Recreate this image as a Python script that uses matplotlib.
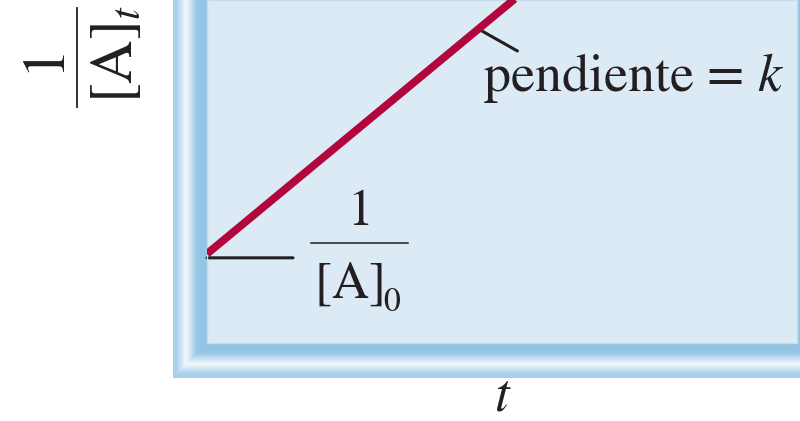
import numpy as np
import matplotlib
matplotlib.use("Agg")
import matplotlib.pyplot as plt
from matplotlib.transforms import offset_copy

plt.rcParams['font.family'] = ['STIXGeneral', 'DejaVu Serif']
plt.rcParams['mathtext.fontset'] = 'stix'

# second-order kinetics: 1/[A] grows linearly with time
t = [0.0, 8.0]
inv_a = [2.6, 14.0]
t_slope_mark = 4.6

W, H = 800, 421
RED = '#b2063c'
INK = '#231f20'
PANEL = '#dbeaf5'

fig = plt.figure(figsize=(W / 100, H / 100), dpi=100)

# bevelled frame around the plot panel, drawn as an RGBA image in pixel space
bg = fig.add_axes([0, 0, 1, 1])
bg.set_xlim(0, W)
bg.set_ylim(H, 0)
bg.axis('off')

in_l, in_r, in_b = 207, 797, 343
out_l, out_b = 173, 378
xx, yy = np.meshgrid(np.arange(W) + 0.5, np.arange(H) + 0.5)
d = np.full(xx.shape, -1.0)
d = np.where(xx < in_l, in_l - xx, d)
d = np.where(xx >= in_r, np.maximum(d, xx - in_r), d)
d = np.where(yy >= in_b, np.maximum(d, yy - in_b), d)
inside = (d > 0) & (xx >= out_l) & (yy < out_b)

stops = [0, 10, 21, 30, 35]
cols = np.array([
    [146, 196, 227],
    [150, 199, 229],
    [244, 249, 253],
    [172, 210, 235],
    [165, 206, 233],
]) / 255.0
img = np.zeros((H, W, 4))
for c in range(3):
    img[..., c] = np.interp(d, stops, cols[:, c])
img[..., 3] = inside.astype(float)
bg.imshow(img, extent=[0, W, H, 0], interpolation='bilinear', zorder=0)

ax = fig.add_axes([in_l / W, 1 - in_b / H, (in_r - in_l) / W, in_b / H])
ax.set_facecolor(PANEL)
ax.set_xlim(0, 10)
ax.set_ylim(0, 10)
ax.set_xticks([])
ax.set_yticks([])
for s in ax.spines.values():
    s.set_color('#c4dcee')
    s.set_linewidth(1)

ax.plot(t, inv_a, color=RED, lw=5.6, solid_capstyle='butt', zorder=3)

# intercept leader, sitting along the lower edge of the red line
ax.annotate('', xy=(t[0], inv_a[0]),
            xycoords=offset_copy(ax.transData, fig=fig, y=-4, units='dots'),
            xytext=(86, 0), textcoords='offset pixels',
            arrowprops=dict(arrowstyle='-', lw=2.2, color=INK, shrinkA=0, shrinkB=0),
            zorder=2)

# slope leader and label
y_mark = np.interp(t_slope_mark, t, inv_a)
ax.annotate('', xy=(t_slope_mark, y_mark), xytext=(39, -22), textcoords='offset pixels',
            arrowprops=dict(arrowstyle='-', lw=2.2, color=INK, shrinkA=0, shrinkB=0),
            zorder=2)
ax.annotate(r'pendiente = $k$', xy=(t_slope_mark, y_mark), xytext=(5, -62),
            textcoords='offset pixels', ha='left', va='baseline', fontsize=39, color=INK)

# transparent overlay in pixel space for the stacked fractions
fg = fig.add_axes([0, 0, 1, 1], facecolor='none')
fg.set_xlim(0, W)
fg.set_ylim(H, 0)
fg.axis('off')

fs0 = 37
fg.text(360, 225, '1', ha='center', va='baseline', fontsize=fs0, color=INK)
fg.plot([311, 408], [243, 243], color=INK, lw=1.1)
fg.text(314, 298, r'$[\mathrm{A}]$', ha='left', va='baseline', fontsize=fs0, color=INK)
fg.text(383, 311, '0', ha='left', va='baseline', fontsize=fs0 * 0.66, color=INK)

fst = 43
fg.text(58, 57, '1', rotation=90, rotation_mode='anchor', ha='center', va='baseline',
        fontsize=fst, color=INK)
fg.plot([77, 77], [8, 107], color=INK, lw=1.3)
fg.text(132, 54, r'$[\mathrm{A}]_t$', rotation=90, rotation_mode='anchor',
        ha='center', va='baseline', fontsize=fst, color=INK)

fg.text(503, 398, r'$t$', ha='center', va='center', fontsize=38, color=INK)

fig.savefig('out.png', dpi=100)
